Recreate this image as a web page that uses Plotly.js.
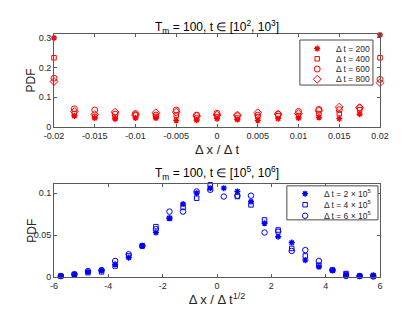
<!DOCTYPE html>
<html>
<head>
<meta charset="utf-8">
<script src="https://cdn.plot.ly/plotly-3.0.1.min.js"></script>
<style>html,body{margin:0;padding:0;background:#fff;}</style>
</head>
<body>
<div id="chart" style="width:420px;height:315px;"></div>
<script>
// ---- Top panel data: T_m = 100, t in [1e2, 1e3] ----
const xTop = [-0.02,-0.0175,-0.015,-0.0125,-0.01,-0.0075,-0.005,-0.0025,0,0.0025,0.005,0.0075,0.01,0.0125,0.015,0.0175,0.02];
const pdfDt200 = [0.300,0.037,0.030,0.027,0.030,0.030,0.022,0.023,0.028,0.025,0.022,0.028,0.030,0.032,0.028,0.043,0.310];
const pdfDt400 = [0.233,0.045,0.035,0.035,0.040,0.035,0.040,0.030,0.035,0.030,0.035,0.038,0.038,0.045,0.045,0.058,0.233];
const pdfDt600 = [0.164,0.061,0.057,0.043,0.045,0.040,0.057,0.040,0.046,0.038,0.040,0.043,0.052,0.059,0.058,0.065,0.160];
const pdfDt800 = [0.153,0.052,0.042,0.050,0.040,0.048,0.050,0.037,0.040,0.040,0.048,0.043,0.045,0.055,0.067,0.065,0.149];
const topLabels = ['\u0394 t = 200','\u0394 t = 400','\u0394 t = 600','\u0394 t = 800'];
const topTickVals = [-0.02,-0.015,-0.01,-0.005,0,0.005,0.01,0.015,0.02];
const topTickText = ['-0.02','-0.015','-0.01','-0.005','0','0.005','0.01','0.015','0.02'];
const topYTickVals = [0,0.1,0.2,0.3];
const topYTickText = ['0','0.1','0.2','0.3'];

// ---- Bottom panel data: T_m = 100, t in [1e5, 1e6] ----
const xBot = [-5.75,-5.25,-4.75,-4.25,-3.75,-3.25,-2.75,-2.25,-1.75,-1.25,-0.75,-0.25,0.25,0.75,1.25,1.75,2.25,2.75,3.25,3.75,4.25,4.75,5.25,5.75];
const pdfDt2e5 = [0.001,0.003,0.006,0.008,0.015,0.023,0.037,0.053,0.070,0.087,0.100,0.106,0.106,0.102,0.090,0.064,0.048,0.041,0.020,0.012,0.008,0.003,0.001,0.002];
const pdfDt4e5 = [0.001,0.003,0.005,0.006,0.013,0.025,0.037,0.060,0.070,0.083,0.094,0.110,0.112,0.096,0.086,0.068,0.056,0.034,0.025,0.014,0.008,0.004,0.001,0.001];
const pdfDt6e5 = [0.001,0.003,0.007,0.008,0.019,0.027,0.037,0.057,0.078,0.078,0.102,0.104,0.096,0.097,0.097,0.053,0.054,0.031,0.032,0.019,0.008,0.001,0.001,0.0005];
const botLabels = ['\u0394 t = 2 \u00d7 10<sup>5</sup>','\u0394 t = 4 \u00d7 10<sup>5</sup>','\u0394 t = 6 \u00d7 10<sup>5</sup>'];
const botTickVals = [-6,-4,-2,0,2,4,6];
const botTickText = ['-6','-4','-2','0','2','4','6'];
const botYTickVals = [0,0.05,0.1];
const botYTickText = ['0','0.05','0.1'];

// ---- styling ----
const FONT = 'Liberation Sans, Arial, sans-serif';
const TXT = '#262626';
const LINE = '#5a5a5a';
const RED = '#ff0000';
const BLUE = '#0000ff';
const topSymbols = ['asterisk-open','square-open','circle-open','diamond-open'];
const topSizes = [5,4.5,6,6];
const botSymbols = ['asterisk-open','square-open','circle-open'];
const botSizes = [5,4.5,5.5];

function markerStyle(color, symbol, size){
  return {color: color, symbol: symbol, size: size, line: {color: color, width: symbol==='asterisk-open' ? 1.4 : 1}};
}

const traces = [];
[pdfDt200,pdfDt400,pdfDt600,pdfDt800].forEach((ys,i)=>{
  traces.push({type:'scatter', mode:'markers', x:xTop, y:ys, xaxis:'x', yaxis:'y',
    name: topLabels[i], showlegend:false, cliponaxis:false, marker: markerStyle(RED, topSymbols[i], topSizes[i])});
});
[pdfDt2e5,pdfDt4e5,pdfDt6e5].forEach((ys,i)=>{
  traces.push({type:'scatter', mode:'markers', x:xBot, y:ys, xaxis:'x2', yaxis:'y2',
    name: botLabels[i], showlegend:false, cliponaxis:false, marker: markerStyle(BLUE, botSymbols[i], botSizes[i])});
});

// legend glyphs drawn on helper axes (0..1)
const topLegY = topLabels.map((_,i)=>0.81 - i*0.227);
const botLegY = botLabels.map((_,i)=>0.77 - i*0.325);
topLabels.forEach((lab,i)=>{
  traces.push({type:'scatter', mode:'markers', x:[0.237], y:[topLegY[i]], xaxis:'x3', yaxis:'y3', showlegend:false, hoverinfo:'skip',
    marker: markerStyle(RED, topSymbols[i], topSizes[i])});
});
botLabels.forEach((lab,i)=>{
  traces.push({type:'scatter', mode:'markers', x:[0.2], y:[botLegY[i]], xaxis:'x4', yaxis:'y4', showlegend:false, hoverinfo:'skip',
    marker: markerStyle(BLUE, botSymbols[i], botSizes[i])});
});

const axBase = {showgrid:false, zeroline:false, showline:true, linecolor:LINE, linewidth:1, mirror:'ticks',
  ticks:'inside', ticklen:3, tickcolor:LINE, tickfont:{family:FONT,size:9,color:TXT}, automargin:false, tickmode:'array'};
const hidden = {visible:false, range:[0,1], fixedrange:true};

const topLegDom = {x:[0.714,0.888], y:[0.730,0.873]};
const botLegDom = {x:[0.683,0.900], y:[0.302,0.410]};

const annotations = [
  {xref:'paper', yref:'paper', x:0.517, y:0.915, xanchor:'center', yanchor:'middle', showarrow:false,
   text:'T<sub>m</sub> = 100, t \u2208 [10<sup>2</sup>, 10<sup>3</sup>]', font:{family:FONT,size:12,color:'#000'}},
  {xref:'paper', yref:'paper', x:0.517, y:0.451, xanchor:'center', yanchor:'middle', showarrow:false,
   text:'T<sub>m</sub> = 100, t \u2208 [10<sup>5</sup>, 10<sup>6</sup>]', font:{family:FONT,size:12,color:'#000'}},
  {xref:'paper', yref:'paper', x:0.074, y:0.745, xanchor:'center', yanchor:'middle', showarrow:false, textangle:-90,
   text:'PDF', font:{family:FONT,size:12,color:TXT}},
  {xref:'paper', yref:'paper', x:0.074, y:0.268, xanchor:'center', yanchor:'middle', showarrow:false, textangle:-90,
   text:'PDF', font:{family:FONT,size:12,color:TXT}}
];
topLabels.forEach((lab,i)=>annotations.push({xref:'x3', yref:'y3', x:0.47, y:topLegY[i], xanchor:'left', yanchor:'middle',
  showarrow:false, text:lab, font:{family:FONT,size:8.5,color:TXT}}));
botLabels.forEach((lab,i)=>annotations.push({xref:'x4', yref:'y4', x:0.39, y:botLegY[i], xanchor:'left', yanchor:'middle',
  showarrow:false, text:lab, font:{family:FONT,size:8.5,color:TXT}}));

const layout = {
  width:420, height:315, margin:{l:0,r:0,t:0,b:0}, paper_bgcolor:'#fff', plot_bgcolor:'#fff',
  showlegend:false, font:{family:FONT,color:TXT},
  xaxis: Object.assign({}, axBase, {domain:[0.1286,0.9048], anchor:'y', range:[-0.02,0.02], tickvals:topTickVals, ticktext:topTickText,
    title:{text:'\u0394 x / \u0394 t', font:{family:FONT,size:13,color:TXT}, standoff:5}}),
  yaxis: Object.assign({}, axBase, {domain:[0.597,0.892], anchor:'x', range:[0,0.313], tickvals:topYTickVals, ticktext:topYTickText}),
  xaxis2: Object.assign({}, axBase, {domain:[0.1286,0.9048], anchor:'y2', range:[-6,6], tickvals:botTickVals, ticktext:botTickText,
    title:{text:'\u0394 x / \u0394 t<sup>1/2</sup>', font:{family:FONT,size:13,color:TXT}, standoff:5}}),
  yaxis2: Object.assign({}, axBase, {domain:[0.121,0.416], anchor:'x2', range:[0,0.111], tickvals:botYTickVals, ticktext:botYTickText}),
  xaxis3: Object.assign({}, hidden, {domain:topLegDom.x, anchor:'y3'}),
  yaxis3: Object.assign({}, hidden, {domain:topLegDom.y, anchor:'x3'}),
  xaxis4: Object.assign({}, hidden, {domain:botLegDom.x, anchor:'y4'}),
  yaxis4: Object.assign({}, hidden, {domain:botLegDom.y, anchor:'x4'}),
  shapes: [
    {type:'rect', xref:'paper', yref:'paper', x0:topLegDom.x[0], x1:topLegDom.x[1], y0:topLegDom.y[0], y1:topLegDom.y[1],
     line:{color:'#4a4a4a', width:1}, fillcolor:'rgba(0,0,0,0)', layer:'above'},
    {type:'rect', xref:'paper', yref:'paper', x0:botLegDom.x[0], x1:botLegDom.x[1], y0:botLegDom.y[0], y1:botLegDom.y[1],
     line:{color:'#4a4a4a', width:1}, fillcolor:'rgba(0,0,0,0)', layer:'above'}
  ],
  annotations: annotations
};

Plotly.newPlot('chart', traces, layout, {staticPlot:true, displayModeBar:false});
</script>
</body>
</html>
